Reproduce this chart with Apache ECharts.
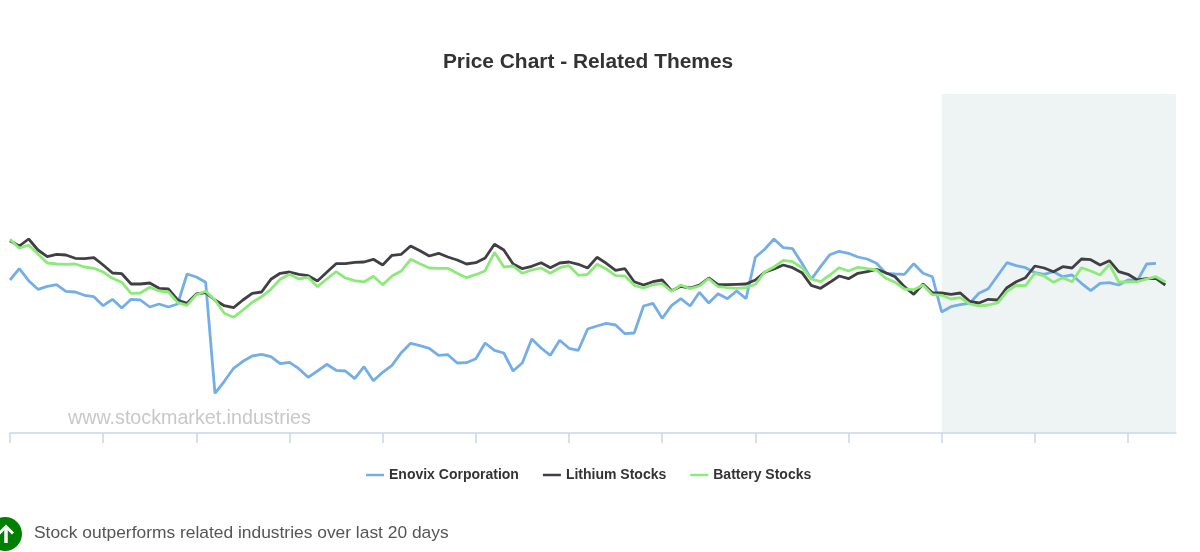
<!DOCTYPE html>
<html><head><meta charset="utf-8">
<style>html,body{margin:0;padding:0;background:#fff}#c{width:1200px;height:552px}</style>
<script src="https://cdn.jsdelivr.net/npm/echarts@6/dist/echarts.min.js"></script>
</head><body><div id="c"></div>
<script>
const titleText = "Price Chart - Related Themes";
const noteText = "Stock outperforms related industries over last 20 days";
const watermark = "www.stockmarket.industries";
const seriesNames = ["Enovix Corporation","Lithium Stocks","Battery Stocks"];
const enovix = [153,164.3,152.3,143.7,146.7,148.3,141.7,141,137.7,136.3,127.3,133.7,125,133.7,133,126,129,126,129,159,156,150.7,39.7,51.7,64.7,71.7,77,78.7,76.3,69.3,70.7,64.3,55.7,62,68.7,62.7,62,54.3,66.3,52.3,60.7,67.7,80.3,
89.7,87.3,84.7,77.7,78.3,70,70.3,74.3,90,82.7,80,62,70.3,94,85,77.7,92.7,84.7,82.7,104,107,109.7,108,99.3,100,127,129.7,114.7,127.3,134.3,127,140.7,130,139.3,134.3,142,134.3,175.7,183.7,194,185.3,184.3,
169.7,153.7,166.3,178.3,181.7,179.7,176,174,169.7,159.7,159,158.7,169.3,159.7,156.3,121,126.3,128.3,129.7,139.7,144.3,157.3,170.3,167.3,165.3,160.3,158.7,161.3,156.3,158,149.7,142.3,149.7,150.3,148,153,152.3,169,169.7];
const lithium = [192.3,187,194,183,176.3,178.7,178,174.7,174.3,175.3,168,160,159.3,149,149,150,144.7,144,133,129.7,139,140.3,133,127.3,125.3,133,139.7,141,153.7,159.7,161,158.7,157.3,152,160.7,169.3,169.3,170.7,171,173.7,168,177.7,178.7,
187,182.3,177,179.7,176,173,169,170.3,175,188.7,183,169,164.3,166.7,170.3,165.3,170,171,168.7,165,175.7,169.7,162.7,164.3,151.3,148,151.3,153,142.3,146.7,145,148,155,148.3,148.3,148.7,149,153,160.7,164,168,165.3,160.3,
147.7,144.7,150.7,157,154.3,159.7,161.3,163.7,160.3,156.3,146.3,138.7,149,140.3,140,138.7,140,131.7,130,133.7,133,145.3,151.3,155.3,167,165,161.3,166.3,165,174,173.3,168,172.3,161.3,158.7,153,154.3,154.7,148];
const battery = [193.7,184.7,188,179,170,169,168.7,169,166,164.7,161,154.7,150.7,139.7,140,145.7,142,141,130.3,127.7,138.3,141.7,133,119.7,115.7,123,130.7,136.3,143.7,153.7,158.7,154,155.7,146.3,154,161.3,155,152.3,151,156.7,148.3,157,162,
173.7,169.3,165,164.7,164.7,159.7,155.3,158.3,162.3,180.7,166,167,159.7,163,165,159.7,165.3,167.3,157.7,158.7,168.7,164,157.3,157,147.7,145,148.3,149.3,141.7,148,144.3,147,154.3,146.3,145.3,144.7,145.3,148.7,161,166,172.7,171.3,165.3,
154,151.3,158,165.3,162,165.7,164.3,163,154.7,150.7,144,143.3,148,138.3,137.7,134,135.3,129,127,128,130,141.3,147.7,147.3,159.7,157,150.7,155.3,151.3,165.3,162,158,168.7,151,151,151.3,154,156.3,151];
const colors = ["#74aee8","#3f3f44","#8cea78"];
const xMax = 125.15, yMax = 339;
const bandStart = 100;
const tickValues = [0,10,20,30,40,50,60,70,80,90,100,110,120];
const sets = [enovix,lithium,battery];
const chart = echarts.init(document.getElementById('c'),null,{renderer:'canvas'});
chart.setOption({
  animation:false,
  backgroundColor:'#fff',
  textStyle:{fontFamily:'"Liberation Sans",Arial,sans-serif'},
  title:{text:titleText,left:583,top:46.5,textAlign:'center',textStyle:{fontSize:20.9,fontWeight:'bold',color:'#333',fontFamily:'"Liberation Sans",Arial,sans-serif'}},
  legend:{left:361,top:463,itemWidth:18,itemHeight:2.5,itemGap:24,data:seriesNames,icon:'rect',
    textStyle:{fontSize:14,fontWeight:'bold',color:'#333',fontFamily:'"Liberation Sans",Arial,sans-serif'}},
  grid:{left:10,right:24,top:94,bottom:119},
  xAxis:{type:'value',min:0,max:xMax,interval:10,splitLine:{show:false},
    axisLine:{lineStyle:{color:'#c8d8ec',width:1.5}},
    axisTick:{show:true,length:10,customValues:tickValues,lineStyle:{color:'#ccd6eb',width:1.5}},
    axisLabel:{show:false}},
  yAxis:{type:'value',min:0,max:yMax,show:false},
  series:sets.map((d,k)=>({
    name:seriesNames[k],type:'line',showSymbol:false,symbol:'none',
    lineStyle:{width:2.8,color:colors[k]},itemStyle:{color:colors[k]},
    data:d.map((v,i)=>[i,v]),
    markArea:k===0?{silent:true,itemStyle:{color:'#eef4f4'},z:0,data:[[{xAxis:bandStart},{xAxis:xMax}]]}:undefined
  })),
  graphic:[
    {type:'text',left:68,top:408.5,silent:true,style:{text:watermark,fontSize:19.7,fill:'#c8c8c8',fontFamily:'"Liberation Sans",Arial,sans-serif'}},
    {type:'circle',shape:{cx:5,cy:534,r:17},style:{fill:'#008000'}},
    {type:'polyline',shape:{points:[[-1,533.5],[6,526.5],[13,533.5]]},style:{stroke:'#fff',lineWidth:3,fill:'none'}},
    {type:'line',shape:{x1:6,y1:528,x2:6,y2:543},style:{stroke:'#fff',lineWidth:3.5}},
    {type:'text',left:34,top:525,style:{text:noteText,fontSize:17.4,fill:'#555',fontFamily:'"Liberation Sans",Arial,sans-serif'}}
  ]
});
</script></body></html>
